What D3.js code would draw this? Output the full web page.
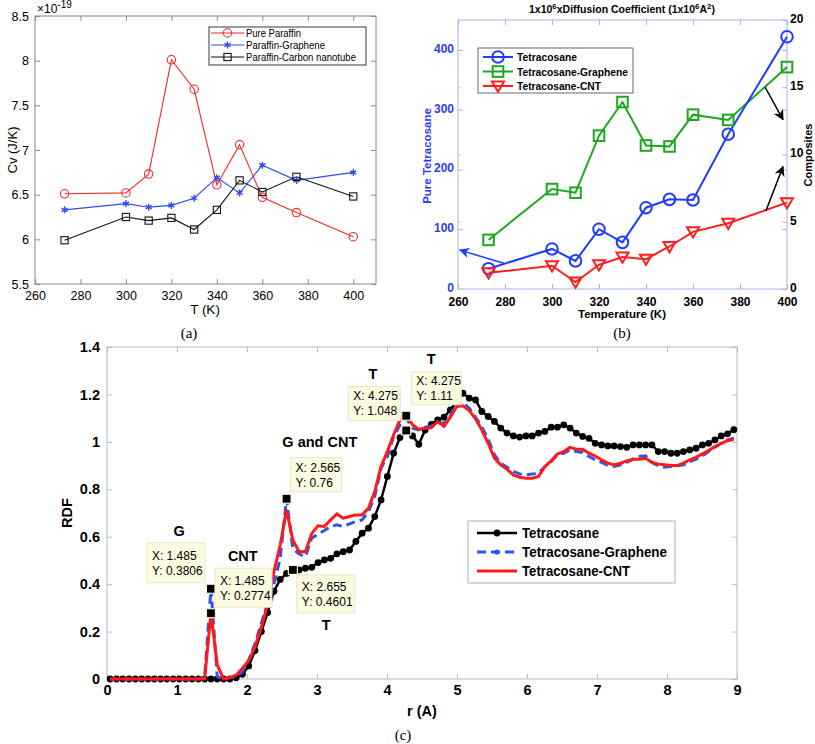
<!DOCTYPE html>
<html><head><meta charset="utf-8">
<script src="https://cdnjs.cloudflare.com/ajax/libs/d3/7.8.5/d3.min.js"></script>
<style>body{margin:0;background:#fff;}svg{display:block;}text{font-family:"Liberation Sans",Arial,sans-serif;}</style>
</head><body>
<svg id="chart" width="815" height="744"></svg>
<script>
// ---------- Panel (a) data ----------
const tempA = [273,300,310,320,330,340,350,360,375,400];
const cvPure = [6.51,6.52,6.73,8.01,7.68,6.61,7.06,6.47,6.30,6.03];
const cvGraphene = [6.33,6.40,6.36,6.38,6.46,6.69,6.52,6.83,6.66,6.75];
const cvCNT = [5.99,6.25,6.21,6.24,6.11,6.33,6.66,6.53,6.70,6.48];
const aXTicks = [260,280,300,320,340,360,380,400];
const aYTicks = [5.5,6,6.5,7,7.5,8,8.5];
const aSeriesNames = ["Pure Paraffin","Paraffin-Graphene","Paraffin-Carbon nanotube"];

// ---------- Panel (b) data ----------
const tempB = [273,300,310,320,330,340,350,360,375,400];
const diffTetra = [34,67,47,100,78,136,150,149,259,422];          // left axis
const diffGraphene = [3.65,7.43,7.16,11.4,13.9,10.67,10.6,12.96,12.57,16.5]; // right axis
const diffCNT = [1.2,1.73,0.52,1.8,2.37,2.22,3.16,4.25,4.89,6.42];           // right axis
const bXTicks = [260,280,300,320,340,360,380,400];
const bYLeftTicks = [0,100,200,300,400];
const bYRightTicks = [0,5,10,15,20];
const bSeriesNames = ["Tetracosane","Tetracosane-Graphene","Tetracosane-CNT"];

// ---------- Panel (c) data ----------
const rVals = [0.045,0.135,0.225,0.315,0.405,0.495,0.585,0.675,0.765,0.855,
0.945,1.035,1.125,1.215,1.305,1.395,1.485,1.575,1.665,1.755,
1.845,1.935,2.025,2.115,2.205,2.295,2.385,2.475,2.565,2.655,
2.745,2.835,2.925,3.015,3.105,3.195,3.285,3.375,3.465,3.555,
3.645,3.735,3.825,3.915,4.005,4.095,4.185,4.275,4.365,4.455,
4.545,4.635,4.725,4.815,4.905,4.995,5.085,5.175,5.265,5.355,
5.445,5.535,5.625,5.715,5.805,5.895,5.985,6.075,6.165,6.255,
6.345,6.435,6.525,6.615,6.705,6.795,6.885,6.975,7.065,7.155,
7.245,7.335,7.425,7.515,7.605,7.695,7.785,7.875,7.965,8.055,
8.145,8.235,8.325,8.415,8.505,8.595,8.685,8.775,8.865,8.955];
const rdfTetra = [0,0,0,0,0,0,0,0,0,0,
0,0,0,0,0,0,0,0,0,0,
0.005,0.02,0.055,0.12,0.2,0.28,0.37,0.42,0.445,0.4601,
0.46,0.467,0.471,0.491,0.502,0.509,0.528,0.537,0.544,0.58,
0.615,0.636,0.685,0.755,0.854,0.952,1.018,1.048,1.025,0.99,
1.05,1.074,1.093,1.104,1.135,1.17,1.205,1.184,1.177,1.128,
1.107,1.086,1.058,1.037,1.025,1.02,1.025,1.025,1.037,1.044,
1.062,1.062,1.072,1.058,1.037,1.023,1.015,0.994,0.987,0.983,
0.983,0.98,0.977,0.987,0.987,0.987,0.987,0.959,0.959,0.952,
0.952,0.959,0.966,0.973,0.987,0.994,1.008,1.025,1.034,1.051];
const rdfGraphene = [0,0,0,0,0,0,0,0,0,0,
0,0,0,0,0,0.01,0.3806,0.01,0,0.005,
0.01,0.03,0.08,0.15,0.235,0.32,0.40,0.51,0.76,0.55,
0.527,0.516,0.594,0.611,0.626,0.643,0.65,0.643,0.654,0.664,
0.671,0.706,0.77,0.889,0.938,1.022,1.071,1.10,1.058,1.05,
1.062,1.067,1.079,1.079,1.109,1.174,1.166,1.142,1.104,1.064,
1.011,0.945,0.91,0.893,0.875,0.865,0.861,0.864,0.868,0.896,
0.917,0.945,0.952,0.966,0.959,0.955,0.938,0.924,0.913,0.901,
0.896,0.903,0.913,0.927,0.938,0.941,0.913,0.899,0.893,0.896,
0.899,0.903,0.917,0.927,0.941,0.959,0.977,0.994,1.008,1.015];
const rdfCNT = [0,0,0,0,0,0,0,0,0,0,
0,0,0,0,0,0,0.2774,0.06,0,0.005,
0.016,0.045,0.077,0.136,0.218,0.312,0.453,0.566,0.713,0.586,
0.537,0.537,0.614,0.646,0.643,0.671,0.696,0.678,0.685,0.692,
0.692,0.72,0.79,0.896,0.96,1.03,1.093,1.11,1.072,1.053,
1.057,1.06,1.086,1.065,1.104,1.149,1.152,1.132,1.097,1.05,
0.994,0.931,0.903,0.884,0.861,0.851,0.847,0.847,0.854,0.896,
0.92,0.949,0.959,0.977,0.969,0.969,0.952,0.94,0.924,0.91,
0.903,0.91,0.92,0.927,0.927,0.931,0.914,0.906,0.903,0.9,
0.9,0.91,0.924,0.935,0.949,0.963,0.98,0.994,1.005,1.011];
const cXTicks = [0,1,2,3,4,5,6,7,8,9];
const cYTicks = [0,0.2,0.4,0.6,0.8,1,1.2,1.4];
const cSeriesNames = ["Tetracosane","Tetracosane-Graphene","Tetracosane-CNT"];
const dataTipX = [1.485,1.485,2.655,2.565,4.275,4.275];
const dataTipY = [0.3806,0.2774,0.4601,0.76,1.048,1.11];
const annoText = ["G","CNT","T","G and CNT","T","T"];
const annoR = [1.03,1.94,3.13,3.04,3.8,4.63];
const annoV = [0.625,0.52,0.23,1.0,1.285,1.35];

const svg = d3.select("#chart");
svg.append("rect").attr("width",815).attr("height",744).attr("fill","#fff");

function fitText(sel, w){ sel.attr("textLength",w).attr("lengthAdjust","spacingAndGlyphs"); }

function frameAxes(g, x, y, xt, yt, color, opts){
  const [x0,x1] = x.range(), [y0,y1] = y.range();
  const tl = opts.tick || 5;
  g.append("rect").attr("x",x0).attr("y",y1).attr("width",x1-x0).attr("height",y0-y1)
   .attr("fill","none").attr("stroke",color).attr("stroke-width",1);
  const bottom = g.append("g").attr("transform",`translate(0,${y0})`)
    .call(d3.axisBottom(x).tickValues(xt).tickSize(-tl).tickPadding(opts.xpad||6).tickFormat(d=>String(d)));
  const top = g.append("g").attr("transform",`translate(0,${y1})`)
    .call(d3.axisTop(x).tickValues(xt).tickSize(-tl).tickFormat(""));
  const left = g.append("g").attr("transform",`translate(${x0},0)`)
    .call(d3.axisLeft(y).tickValues(yt).tickSize(-tl).tickPadding(opts.ypad||6).tickFormat(d=>String(d)));
  const right = g.append("g").attr("transform",`translate(${x1},0)`)
    .call(d3.axisRight(y).tickValues(yt).tickSize(-tl).tickFormat(""));
  [bottom,top,left,right].forEach(a=>{
    a.select(".domain").remove();
    a.selectAll(".tick line").attr("stroke",color);
    a.selectAll("text").attr("fill","#000").style("font-size",opts.fs+"px")
      .style("font-weight",opts.bold?"bold":"normal").style("font-family",'"Liberation Sans",Arial,sans-serif');
  });
  return {bottom,top,left,right};
}

// ================= Panel (a) =================
{
  const g = svg.append("g");
  const x = d3.scaleLinear().domain([260,410]).range([35,376]);
  const y = d3.scaleLinear().domain([5.5,8.5]).range([284,16]);
  frameAxes(g,x,y,aXTicks,aYTicks,"#8a8a8a",{fs:12.5,bold:false,xpad:7,ypad:6});
  const line = d3.line().x((d,i)=>x(tempA[i])).y(d=>y(d));
  const colors = ["#f22a2a","#2d4cf0","#111"];
  const series = [cvPure,cvGraphene,cvCNT];
  series.forEach((s,k)=>{
    g.append("path").datum(s).attr("d",line).attr("fill","none").attr("stroke",colors[k]).attr("stroke-width",1.1);
  });
  const drawMarker = (sel,k,cx,cy)=>{
    if(k===0) sel.append("circle").attr("cx",cx).attr("cy",cy).attr("r",4.2).attr("fill","none").attr("stroke",colors[0]).attr("stroke-width",1.1);
    else if(k===1) sel.append("path").attr("d",d3.symbol(d3.symbolAsterisk,34)()).attr("transform",`translate(${cx},${cy})`).attr("fill","none").attr("stroke",colors[1]).attr("stroke-width",1.4);
    else sel.append("rect").attr("x",cx-3.6).attr("y",cy-3.6).attr("width",7.2).attr("height",7.2).attr("fill","none").attr("stroke",colors[2]).attr("stroke-width",1.1);
  };
  series.forEach((s,k)=>{ s.forEach((v,i)=>drawMarker(g,k,x(tempA[i]),y(v))); });
  // legend
  const lg = g.append("g");
  lg.append("rect").attr("x",209).attr("y",27).attr("width",157).attr("height",38).attr("fill","#fff").attr("stroke","#222").attr("stroke-width",0.9);
  const aLegW = [55,79,110];
  aSeriesNames.forEach((n,k)=>{
    const yy = 33 + k*12;
    lg.append("line").attr("x1",211).attr("x2",244).attr("y1",yy).attr("y2",yy).attr("stroke",colors[k]).attr("stroke-width",1.1);
    drawMarker(lg,k,227.5,yy);
    fitText(lg.append("text").attr("x",246).attr("y",yy+4).text(n).style("font-size","11px"), aLegW[k]);
  });
  // labels
  g.append("text").attr("x",205).attr("y",314).attr("text-anchor","middle").text("T (K)").style("font-size","13.5px");
  g.append("text").attr("transform","translate(17,150) rotate(-90)").attr("text-anchor","middle").text("Cv (J/K)").style("font-size","13px");
  const ex = g.append("text").attr("x",37).attr("y",13).style("font-size","12px");
  ex.append("tspan").text("\u00d710");
  ex.append("tspan").attr("dy",-5).style("font-size","10px").text("-19");
  g.append("text").attr("x",189).attr("y",338).attr("text-anchor","middle").text("(a)")
    .style("font-family",'"Liberation Serif","Times New Roman",serif').style("font-size","15px");
}

// ================= Panel (b) =================
{
  const g = svg.append("g");
  const x = d3.scaleLinear().domain([260,400]).range([458,787]);
  const yL = d3.scaleLinear().domain([0,450]).range([289,20]);
  const yR = d3.scaleLinear().domain([0,20]).range([289,20]);
  const frameCol = "#aab2e4";
  const ax = frameAxes(g,x,yL,bXTicks,bYLeftTicks,frameCol,{fs:12,bold:true,xpad:8,ypad:4});
  ax.left.selectAll("text").attr("fill","#2a3cf5").attr("dy","0.2em");
  // right axis labels
  const r = g.append("g").attr("transform",`translate(787,0)`)
    .call(d3.axisRight(yR).tickValues(bYRightTicks).tickSize(-5).tickPadding(3).tickFormat(d=>String(d)));
  r.select(".domain").remove();
  r.selectAll(".tick line").attr("stroke","#aab2e4");
  r.selectAll("text").attr("fill","#000").style("font-size","12px").style("font-weight","bold").attr("dy","0.2em");
  const lft = g.append("g").attr("transform",`translate(458,0)`)
    .call(d3.axisLeft(yR).tickValues(bYRightTicks).tickSize(-4).tickFormat(""));
  lft.select(".domain").remove();
  lft.selectAll(".tick line").attr("stroke","#c8cdf0");

  const cBlue="#1f3cff", cGreen="#1ea61e", cRed="#ff1e1e";
  const lineL = d3.line().x((d,i)=>x(tempB[i])).y(d=>yL(d));
  const lineR = d3.line().x((d,i)=>x(tempB[i])).y(d=>yR(d));
  g.append("path").datum(diffGraphene).attr("d",lineR).attr("fill","none").attr("stroke",cGreen).attr("stroke-width",2);
  g.append("path").datum(diffTetra).attr("d",lineL).attr("fill","none").attr("stroke",cBlue).attr("stroke-width",2);
  g.append("path").datum(diffCNT).attr("d",lineR).attr("fill","none").attr("stroke",cRed).attr("stroke-width",2);
  const tri = (cx,cy,s)=>`M${cx-s},${cy-s*0.75}L${cx+s},${cy-s*0.75}L${cx},${cy+s*0.95}Z`;
  const mk = (sel,k,cx,cy)=>{
    if(k===0) sel.append("circle").attr("cx",cx).attr("cy",cy).attr("r",5.8).attr("fill","none").attr("stroke",cBlue).attr("stroke-width",2);
    else if(k===1) sel.append("rect").attr("x",cx-5.3).attr("y",cy-5.3).attr("width",10.6).attr("height",10.6).attr("fill","none").attr("stroke",cGreen).attr("stroke-width",2);
    else sel.append("path").attr("d",tri(cx,cy,6)).attr("fill","none").attr("stroke",cRed).attr("stroke-width",2);
  };
  diffGraphene.forEach((v,i)=>mk(g,1,x(tempB[i]),yR(v)));
  diffTetra.forEach((v,i)=>mk(g,0,x(tempB[i]),yL(v)));
  diffCNT.forEach((v,i)=>mk(g,2,x(tempB[i]),yR(v)));

  // arrows
  const defs = svg.append("defs");
  [["ahBlue",cBlue],["ahBlack","#000"]].forEach(([id,c])=>{
    defs.append("marker").attr("id",id).attr("viewBox","0 0 10 10").attr("refX",9).attr("refY",5)
      .attr("markerWidth",7).attr("markerHeight",7).attr("orient","auto-start-reverse")
      .append("path").attr("d","M0,0L10,5L0,10L3,5Z").attr("fill",c);
  });
  g.append("line").attr("x1",x(279.5)).attr("y1",yL(43)).attr("x2",x(260.8)).attr("y2",yL(65))
    .attr("stroke",cBlue).attr("stroke-width",1.5).attr("marker-end","url(#ahBlue)");
  g.append("line").attr("x1",x(391)).attr("y1",yR(5.8)).attr("x2",x(398.3)).attr("y2",yR(9.1))
    .attr("stroke","#000").attr("stroke-width",1.5).attr("marker-end","url(#ahBlack)");
  g.append("line").attr("x1",x(390.7)).attr("y1",yR(15.0)).attr("x2",x(398.3)).attr("y2",yR(12.6))
    .attr("stroke","#000").attr("stroke-width",1.5).attr("marker-end","url(#ahBlack)");

  // legend
  const lg = g.append("g");
  lg.append("rect").attr("x",478).attr("y",48).attr("width",155).attr("height",45).attr("fill","#fff").attr("stroke","#444").attr("stroke-width",0.8);
  const bLegW = [60,111,84];
  bSeriesNames.forEach((n,k)=>{
    const yy = 57 + k*14.5;
    const c = [cBlue,cGreen,cRed][k];
    lg.append("line").attr("x1",483).attr("x2",513).attr("y1",yy).attr("y2",yy).attr("stroke",c).attr("stroke-width",2);
    mk(lg,k,498,yy);
    fitText(lg.append("text").attr("x",517).attr("y",yy+4).text(n).style("font-size","11px").style("font-weight","bold"), bLegW[k]);
  });
  // title & labels
  const t = g.append("text").attr("x",622).attr("y",13).attr("text-anchor","middle").style("font-size","10.5px").style("font-weight","bold");
  t.append("tspan").text("1x10");
  t.append("tspan").attr("dy",-4).style("font-size","8px").text("6");
  t.append("tspan").attr("dy",4).text("xDiffusion Coefficient (1x10");
  t.append("tspan").attr("dy",-4).style("font-size","8px").text("6");
  t.append("tspan").attr("dy",4).text("A");
  t.append("tspan").attr("dy",-4).style("font-size","8px").text("2");
  t.append("tspan").attr("dy",4).text(")");
  g.append("text").attr("x",622).attr("y",318).attr("text-anchor","middle").text("Temperature (K)").style("font-size","11.5px").style("font-weight","bold");
  g.append("text").attr("transform","translate(431,156) rotate(-90)").attr("text-anchor","middle").text("Pure Tetracosane")
    .style("font-size","11.5px").style("font-weight","bold").attr("fill","#2a3cf5");
  g.append("text").attr("transform","translate(812,155) rotate(-90)").attr("text-anchor","middle").text("Composites")
    .style("font-size","11px").style("font-weight","bold");
  g.append("text").attr("x",622).attr("y",338).attr("text-anchor","middle").text("(b)")
    .style("font-family",'"Liberation Serif","Times New Roman",serif').style("font-size","15px");
}

// ================= Panel (c) =================
{
  const g = svg.append("g");
  const x = d3.scaleLinear().domain([0,9]).range([107,737]);
  const y = d3.scaleLinear().domain([0,1.4]).range([679,347]);
  frameAxes(g,x,y,cXTicks,cYTicks,"#b3bbcc",{fs:14.5,bold:true,xpad:6,ypad:7});
  const line = d3.line().x((d,i)=>x(rVals[i])).y(d=>y(d));
  g.append("path").datum(rdfTetra).attr("d",line).attr("fill","none").attr("stroke","#000").attr("stroke-width",2.5);
  g.selectAll(".dotT").data(rdfTetra).enter().append("circle")
    .attr("cx",(d,i)=>x(rVals[i])).attr("cy",d=>y(d)).attr("r",3.4).attr("fill","#000");
  g.append("path").datum(rdfGraphene).attr("d",line).attr("fill","none").attr("stroke","#2b55ee").attr("stroke-width",3).attr("stroke-dasharray","9,5");
  g.append("path").datum(rdfCNT).attr("d",line).attr("fill","none").attr("stroke","#ff1a1a").attr("stroke-width",3);

  // annotations
  annoText.forEach((t,i)=>{
    g.append("text").attr("x",x(annoR[i])).attr("y",y(annoV[i])).attr("dy","0.35em").attr("text-anchor","middle")
      .text(t).style("font-size","14.5px").style("font-weight","bold");
  });
  // data tips: box offsets (px) relative to marker
  const tipDx = [-64,4,4,4,-58,5], tipDy = [-46,-45,5,-41,-44,-44], tipW=[58,57,58,51,52,50], tipH=[40,39,38,34,34,33];
  dataTipX.forEach((dx,i)=>{
    const mx = x(dx), my = y(dataTipY[i]);
    const bx = mx+tipDx[i], by = my+tipDy[i];
    g.append("rect").attr("x",bx).attr("y",by).attr("width",tipW[i]).attr("height",tipH[i])
      .attr("fill","#fbfbe2").attr("stroke","#e6e6c8").attr("stroke-width",1);
    const pad = (tipH[i]-28)/2;
    g.append("text").attr("x",bx+5).attr("y",by+pad+11).text("X: "+dx).style("font-size","12px");
    g.append("text").attr("x",bx+5).attr("y",by+pad+26).text("Y: "+dataTipY[i]).style("font-size","12px");
    g.append("rect").attr("x",mx-4.5).attr("y",my-4.5).attr("width",9).attr("height",9)
      .attr("fill","#000").attr("stroke","#f4f4cf").attr("stroke-width",1.2);
  });

  // legend
  const lg = g.append("g");
  lg.append("rect").attr("x",468).attr("y",521).attr("width",207).attr("height",62).attr("fill","#fff").attr("stroke","#a9b1c4").attr("stroke-width",1);
  const cLegW = [77,145,108];
  cSeriesNames.forEach((n,k)=>{
    const yy = 533 + k*19;
    const ln = lg.append("line").attr("x1",477).attr("x2",517).attr("y1",yy).attr("y2",yy).attr("stroke-width",k===0?2.5:3);
    if(k===0){ ln.attr("stroke","#000"); lg.append("circle").attr("cx",497).attr("cy",yy).attr("r",3.4).attr("fill","#000"); }
    else if(k===1){ ln.attr("stroke","#2b55ee").attr("stroke-dasharray","9,5"); lg.append("circle").attr("cx",497).attr("cy",yy).attr("r",2.6).attr("fill","#2b55ee"); }
    else ln.attr("stroke","#ff1a1a");
    fitText(lg.append("text").attr("x",522).attr("y",yy+5).text(n).style("font-size","14px").style("font-weight","bold"), cLegW[k]);
  });
  g.append("text").attr("x",422).attr("y",716).attr("text-anchor","middle").text("r (A)").style("font-size","14.5px").style("font-weight","bold");
  g.append("text").attr("transform","translate(72,513) rotate(-90)").attr("text-anchor","middle").text("RDF").style("font-size","14.5px").style("font-weight","bold");
  g.append("text").attr("x",403).attr("y",740).attr("text-anchor","middle").text("(c)")
    .style("font-family",'"Liberation Serif","Times New Roman",serif').style("font-size","15px");
}
</script>
</body></html>
